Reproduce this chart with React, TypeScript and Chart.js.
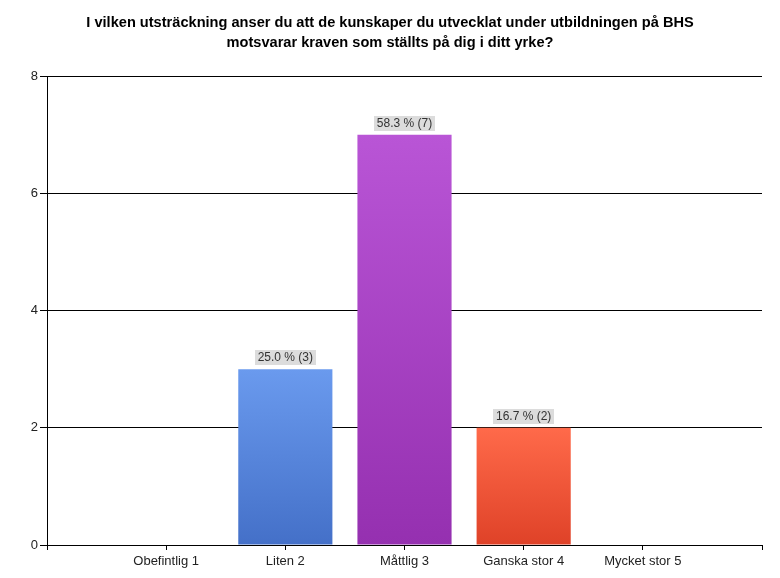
import React, { useEffect, useRef } from "react";
import { Chart, registerables } from "chart.js";

Chart.register(...registerables);

const TITLE_LINES = [
  "I vilken utsträckning anser du att de kunskaper du utvecklat under utbildningen på BHS",
  "motsvarar kraven som ställts på dig i ditt yrke?",
];
const CATEGORIES = ["Obefintlig 1", "Liten 2", "Måttlig 3", "Ganska stor 4", "Mycket stor 5"];
const COUNTS = [0, 3, 7, 2, 0];
const Y_TICKS = [0, 2, 4, 6, 8];
const TOP_COLORS = ["#6f9cee", "#6a9aee", "#b955d6", "#ff6a4a", "#6a9aee"];
const BOTTOM_COLORS = ["#4470c8", "#4470c8", "#9530b0", "#df4228", "#4470c8"];

const FONT = "'Liberation Sans', Arial, sans-serif";

export default function App() {
  const ref = useRef<HTMLCanvasElement | null>(null);

  useEffect(() => {
    document.body.style.margin = "0";
    const canvas = ref.current;
    if (!canvas) return;
    const total = COUNTS.reduce((a, b) => a + b, 0);

    const titlePlugin = {
      id: "customTitle",
      afterDraw(chart: any) {
        const ctx = chart.ctx;
        ctx.save();
        ctx.font = `bold 14.6px ${FONT}`;
        ctx.fillStyle = "#000";
        ctx.textAlign = "center";
        ctx.textBaseline = "middle";
        TITLE_LINES.forEach((line, i) => {
          ctx.fillText(line, 390, 22.5 + i * 20);
        });
        ctx.restore();
      },
    };

    const labelPlugin = {
      id: "barLabels",
      afterDatasetsDraw(chart: any) {
        const ctx = chart.ctx;
        const meta = chart.getDatasetMeta(0);
        ctx.save();
        ctx.font = `12px ${FONT}`;
        meta.data.forEach((bar: any, i: number) => {
          const v = COUNTS[i];
          if (!v) return;
          const text = `${((v / total) * 100).toFixed(1)} % (${v})`;
          const w = ctx.measureText(text).width + 6;
          const h = 15;
          const x = bar.x;
          const yb = bar.y - 4;
          ctx.fillStyle = "#dcdcdc";
          ctx.fillRect(Math.round(x - w / 2), Math.round(yb - h), Math.round(w), h);
          ctx.fillStyle = "#333333";
          ctx.textAlign = "center";
          ctx.textBaseline = "middle";
          ctx.fillText(text, x, yb - h / 2 + 0.5);
        });
        ctx.restore();
      },
    };

    const chart = new Chart(canvas, {
      type: "bar",
      data: {
        datasets: [
          {
            data: COUNTS.map((v, i) => ({ x: i + 1, y: v })),
            backgroundColor: (c: any) => {
              const ch = c.chart;
              const ys = ch.scales?.y;
              const i = c.dataIndex;
              if (!ys || i === undefined) return TOP_COLORS[i ?? 0];
              const top = ys.getPixelForValue(COUNTS[i]);
              const bot = ys.getPixelForValue(0);
              if (!(bot > top)) return TOP_COLORS[i];
              const g = ch.ctx.createLinearGradient(0, top, 0, bot);
              g.addColorStop(0, TOP_COLORS[i]);
              g.addColorStop(1, BOTTOM_COLORS[i]);
              return g;
            },
            borderWidth: 0,
            barPercentage: 1,
            categoryPercentage: 0.79,
          },
        ],
      },
      options: {
        animation: false,
        responsive: false,
        maintainAspectRatio: false,
        layout: { padding: { left: 0, right: 18, top: 76, bottom: 0 } },
        plugins: {
          legend: { display: false },
          tooltip: { enabled: false },
          title: { display: false },
        },
        scales: {
          x: {
            type: "linear",
            min: 0,
            max: 6,
            offset: false,
            afterFit: (s: any) => {
              s.height = 33;
            },
            afterBuildTicks: (s: any) => {
              s.ticks = [0, 1, 2, 3, 4, 5, 6].map((v) => ({ value: v }));
            },
            ticks: {
              stepSize: 1,
              autoSkip: false,
              maxRotation: 0,
              color: "#222",
              font: { family: FONT, size: 13 },
              padding: 4,
              callback: (v: any) => CATEGORIES[Number(v) - 1] ?? "",
            },
            grid: { drawOnChartArea: false, color: "#000", tickLength: 5, offset: false },
            border: { display: true, color: "#000", width: 1 },
          },
          y: {
            min: Y_TICKS[0],
            max: Y_TICKS[Y_TICKS.length - 1],
            afterFit: (s: any) => {
              s.width = 47;
            },
            afterBuildTicks: (s: any) => {
              s.ticks = Y_TICKS.map((v) => ({ value: v }));
            },
            ticks: {
              color: "#222",
              font: { family: FONT, size: 13 },
              padding: 2,
            },
            grid: { color: "#000", tickLength: 7 },
            border: { display: true, color: "#000", width: 1 },
          },
        },
      },
      plugins: [labelPlugin, titlePlugin],
    } as any);

    return () => chart.destroy();
  }, []);

  return (
    <div style={{ width: 780, height: 578, background: "#fff" }}>
      <canvas ref={ref} width={780} height={578} style={{ display: "block" }} />
    </div>
  );
}
